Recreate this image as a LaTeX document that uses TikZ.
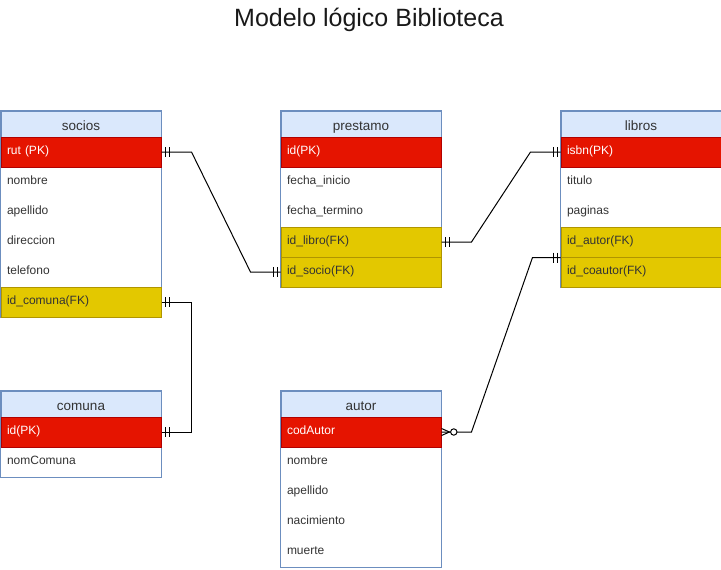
\documentclass[tikz,border=0pt]{standalone}
\usepackage{fontspec}
\setmainfont{Liberation Sans}
\usetikzlibrary{calc,backgrounds}
\definecolor{hdrfill}{HTML}{DAE8FC}
\definecolor{hdrline}{HTML}{6C8EBF}
\definecolor{pkfill}{HTML}{E51400}
\definecolor{pkline}{HTML}{B20000}
\definecolor{fkfill}{HTML}{E3C800}
\definecolor{fkline}{HTML}{B09500}
\definecolor{txt}{HTML}{333333}
\newcommand{\mbarE}[1]{\draw[rel] ($(#1)+(4,-5)$) -- ++(0,10); \draw[rel] ($(#1)+(8,-5)$) -- ++(0,10);}
\newcommand{\mbarW}[1]{\draw[rel] ($(#1)+(-3.5,-5)$) -- ++(0,10); \draw[rel] ($(#1)+(-7.5,-5)$) -- ++(0,10);}
\begin{document}
\begin{tikzpicture}[x=1pt,y=-1pt,
 cell/.style={rectangle, anchor=north west, minimum width=160pt, minimum height=30pt, text width=148pt, text height=7.5pt, text depth=3.5pt, inner xsep=6pt, inner ysep=0pt, align=left, font=\fontsize{12}{14}\selectfont, text=txt, line width=1pt},
 hdr/.style={rectangle, anchor=north west, minimum width=160pt, minimum height=26pt, text height=13pt, text depth=0pt, inner sep=0pt, font=\fontsize{13.5}{16}\selectfont, text=txt, fill=hdrfill, draw=hdrline, line width=1pt},
 plain/.style={cell},
 pk/.style={cell, fill=pkfill, draw=pkline, text=white},
 fk/.style={cell, fill=fkfill, draw=fkline},
 outline/.style={draw=hdrline, line width=1pt},
 rel/.style={draw=black, line width=1pt}
]
\useasboundingbox (0,0) rectangle (721,570);
\node[font=\fontsize{25}{30}\selectfont, anchor=base, text=black!90] (title) at (369,26) {Modelo lógico Biblioteca};
\begin{scope}[shift={(0.5,0.5)}]
% socios
\node[hdr] (socios) at (0,110) {socios};
\node[pk] (s1) at (0,136) {rut (PK)};
\node[plain] (s2) at (0,166) {nombre};
\node[plain] (s3) at (0,196) {apellido};
\node[plain] (s4) at (0,226) {direccion};
\node[plain] (s5) at (0,256) {telefono};
\node[fk] (s6) at (0,286) {id\_comuna(FK)};
% prestamo
\node[hdr] (prestamo) at (280,110) {prestamo};
\node[pk] (p1) at (280,136) {id(PK)};
\node[plain] (p2) at (280,166) {fecha\_inicio};
\node[plain] (p3) at (280,196) {fecha\_termino};
\node[fk] (p4) at (280,226) {id\_libro(FK)};
\node[fk] (p5) at (280,256) {id\_socio(FK)};
% libros
\node[hdr] (libros) at (560,110) {libros};
\node[pk] (l1) at (560,136) {isbn(PK)};
\node[plain] (l2) at (560,166) {titulo};
\node[plain] (l3) at (560,196) {paginas};
\node[fk] (l4) at (560,226) {id\_autor(FK)};
\node[fk] (l5) at (560,256) {id\_coautor(FK)};
% comuna
\node[hdr] (comuna) at (0,390) {comuna};
\node[pk] (c1) at (0,416) {id(PK)};
\node[plain] (c2) at (0,446) {nomComuna};
% autor
\node[hdr] (autor) at (280,390) {autor};
\node[pk] (a1) at (280,416) {codAutor};
\node[plain] (a2) at (280,446) {nombre};
\node[plain] (a3) at (280,476) {apellido};
\node[plain] (a4) at (280,506) {nacimiento};
\node[plain] (a5) at (280,536) {muerte};
\begin{scope}[on background layer]
\draw[outline] (socios.north west) rectangle (s6.south east);
\draw[outline] (prestamo.north west) rectangle (p5.south east);
\draw[outline] (libros.north west) rectangle (l5.south east);
\draw[outline] (comuna.north west) rectangle (c2.south east);
\draw[outline] (autor.north west) rectangle (a5.south east);
\end{scope}
% relations
\draw[rel] (s1.east) -- ++(30,0) -- ($(p5.west)+(-30,0)$) -- (p5.west);
\mbarE{s1.east}
\mbarW{p5.west}
\draw[rel] (p4.east) -- ++(30,0) -- ($(l1.west)+(-30,0)$) -- (l1.west);
\mbarE{p4.east}
\mbarW{l1.west}
\draw[rel] (s6.east) -- ++(30,0) |- (c1.east);
\mbarE{s6.east}
\mbarE{c1.east}
\coordinate (lb) at (l4.south west);
\draw[rel] (a1.east) -- ++(30,0) -- ($(lb)+(-28,0)$) -- (lb);
\mbarW{lb}
\draw[rel] ($(a1.east)+(0,-3.5)$) -- ($(a1.east)+(8,0)$) -- ($(a1.east)+(0,3.5)$);
\draw[rel, fill=white] ($(a1.east)+(12.3,0)$) circle (3.2);
\end{scope}
\end{tikzpicture}
\end{document}
